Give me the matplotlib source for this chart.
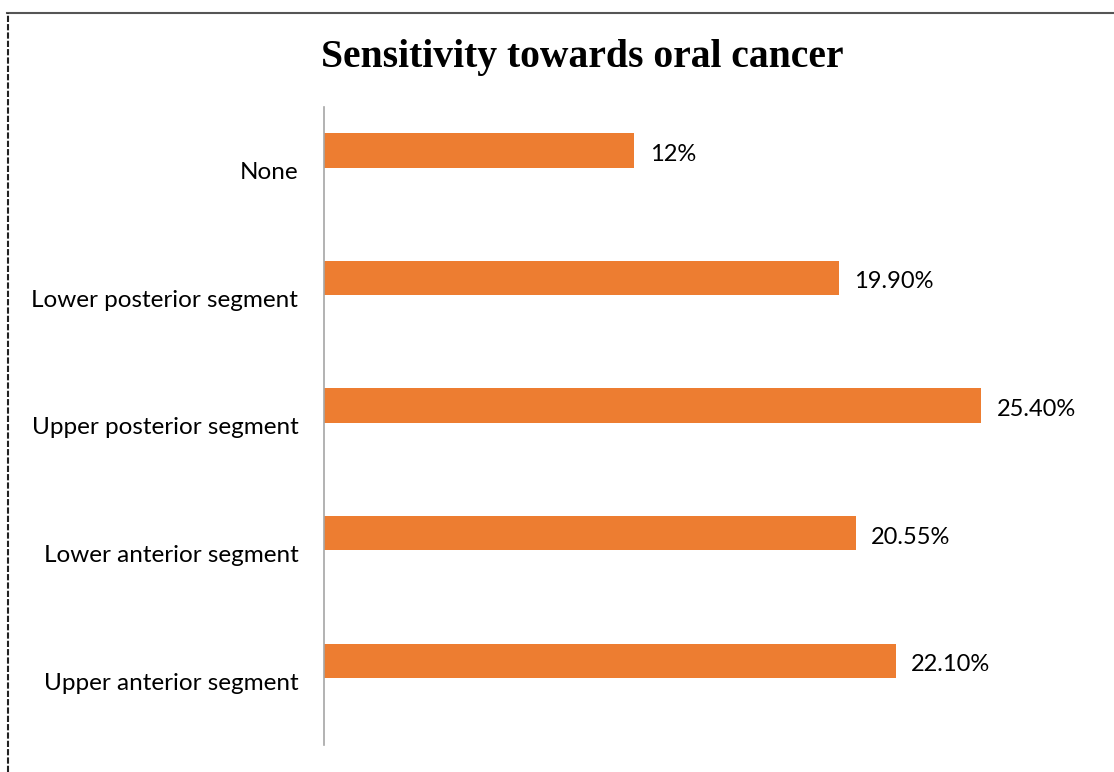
import matplotlib.pyplot as plt
from matplotlib.lines import Line2D

categories = ["Upper anterior segment", "Lower anterior segment",
              "Upper posterior segment", "Lower posterior segment", "None"]
values = [22.10, 20.55, 25.40, 19.90, 12]
value_labels = ["22.10%", "20.55%", "25.40%", "19.90%", "12%"]

fig = plt.figure(figsize=(11.14, 7.72), dpi=100)
W, H = 1114, 772
# axes area in pixels: x 324..1100, y 107..745
ax = fig.add_axes([324 / W, 1 - 745 / H, (1100 - 324) / W, (745 - 107) / H])

# bars sit a little above the category centre (as in the original Excel chart)
shift = 0.16
pos = list(range(len(categories)))
bar_pos = [p + shift for p in pos]
ax.barh(bar_pos, values, height=0.27, color="#ED7D31")
ax.set_ylim(-0.5, 4.5)
ax.set_xlim(0, 30)

for y, v, lab in zip(bar_pos, values, value_labels):
    ax.text(v + 0.6, y - 0.03, lab, va="center", ha="left", fontsize=17,
            family="Lato", color="#000000")

ax.set_yticks(pos)
ax.set_yticklabels(categories, fontsize=17.5, family="Lato")
ax.tick_params(axis="y", length=0, pad=18.5)
ax.set_xticks([])
for s in ["top", "right", "bottom"]:
    ax.spines[s].set_visible(False)
ax.spines["left"].set_color("#A6A6A6")
ax.spines["left"].set_linewidth(1.2)

fig.text(582 / W, 1 - 58 / H, "Sensitivity towards oral cancer", ha="center",
         va="center", fontsize=28.5, fontweight="bold", family="Liberation Serif")

# outer frame: solid top, dashed left
fig.add_artist(Line2D([7 / W, 1], [1 - 13 / H, 1 - 13 / H], color="#555555",
                      lw=1.5, transform=fig.transFigure))
fig.add_artist(Line2D([8 / W, 8 / W], [0, 1 - 13 / H], color="#222222",
                      lw=1.5, ls=(0, (3, 1)), transform=fig.transFigure))

fig.savefig("out.png", dpi=100)
